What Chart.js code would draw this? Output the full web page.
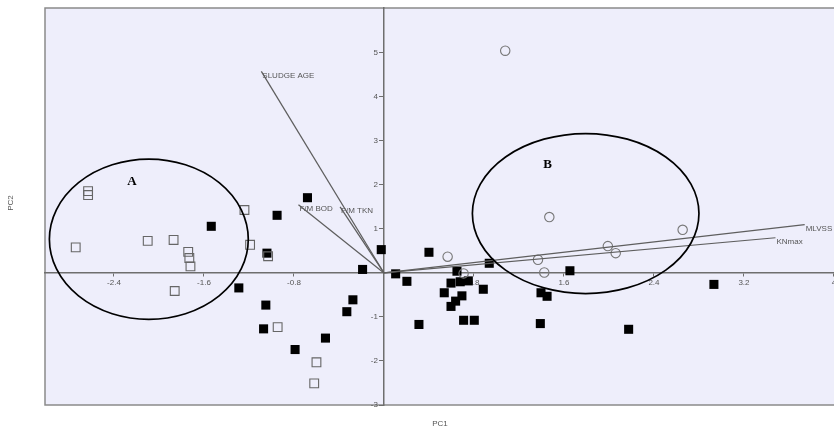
<!DOCTYPE html>
<html>
<head>
<meta charset="utf-8">
<script src="https://cdn.jsdelivr.net/npm/chart.js@4/dist/chart.umd.min.js"></script>
<style>
  html, body { margin: 0; padding: 0; background: #ffffff; overflow: hidden; }
  #wrap { width: 880px; height: 429px; }
</style>
</head>
<body>
<div id="wrap"><canvas id="c" width="880" height="429"></canvas></div>
<script>
// PCA biplot: sample scores on PC1 / PC2 and variable loading vectors

// Cluster A samples (open squares)
const groupAX = [-2.63, -2.63, -2.74, -2.10, -1.87, -1.74, -1.73, -1.72, -1.86, -1.24, -1.19, -1.03, -0.945, -0.60, -0.62];
const groupAY = [1.86, 1.77, 0.58, 0.73, 0.75, 0.48, 0.34, 0.15, -0.41, 1.43, 0.64, 0.38, -1.23, -2.03, -2.51];

// Intermediate samples (filled squares)
const groupMX = [-1.535, -0.68, -0.95, -1.04, -1.29, -1.05, -1.07, -0.79, -0.52, -0.276, -0.33, -0.19, -0.024, 0.104, 0.204, 0.40, 0.649, 0.596, 0.678, 0.75, 0.536, 0.883, 0.693, 0.637, 0.596, 0.311, 0.708, 0.803, 0.936, 1.653, 1.396, 1.45, 1.39, 2.933, 2.175];
const groupMY = [1.06, 1.71, 1.31, 0.45, -0.34, -0.73, -1.27, -1.74, -1.48, -0.61, -0.88, 0.08, 0.53, -0.02, -0.19, 0.47, 0.04, -0.23, -0.20, -0.18, -0.45, -0.37, -0.52, -0.64, -0.76, -1.17, -1.075, -1.075, 0.22, 0.05, -0.45, -0.53, -1.15, -0.26, -1.28];

// Cluster B samples (open circles)
const groupBX = [1.078, 1.47, 2.655, 1.99, 2.06, 1.369, 1.425, 0.566, 0.708];
const groupBY = [5.05, 1.27, 0.98, 0.61, 0.45, 0.30, 0.01, 0.37, -0.01];

// Loading vectors
const vectorNames = ['SLUDGE AGE', 'F/M BOD', 'F/M TKN', 'MLVSS', 'KNmax'];
const vectorX = [-1.09, -0.76, -0.39, 3.74, 3.48];
const vectorY = [4.58, 1.55, 1.50, 1.10, 0.80];

// Axis ticks
const xTicks = [-2.4, -1.6, -0.8, 0.8, 1.6, 2.4, 3.2, 4];
const yTicks = [-3, -2, -1, 1, 2, 3, 4, 5];

// Group ellipses: centre, radii (data units) and letter
const ellipseLabels = ['A', 'B'];
const ellipseCX = [-2.09, 1.793];
const ellipseCY = [0.766, 1.35];
const ellipseRX = [0.884, 1.007];
const ellipseRY = [1.82, 1.818];
const letterX = [-2.24, 1.455];
const letterY = [2.07, 2.46];

const zip = (xs, ys) => xs.map((x, i) => ({ x, y: ys[i] }));

const vectorSets = vectorNames.map((name, i) => ({
  type: 'line',
  label: name,
  data: [{ x: 0, y: 0 }, { x: vectorX[i], y: vectorY[i] }],
  borderColor: '#5e5e5e',
  borderWidth: 1.25,
  pointRadius: 0,
  fill: false
}));

const GRAY = '#555555';
const FONT = '"Liberation Sans", Arial, sans-serif';

const decor = {
  id: 'decor',
  beforeDraw(chart) {
    const { ctx, chartArea: a } = chart;
    ctx.save();
    ctx.fillStyle = 'rgb(238,238,251)';
    ctx.fillRect(a.left, a.top, a.right - a.left, a.bottom - a.top);
    ctx.strokeStyle = '#8a8a8a';
    ctx.lineWidth = 1.5;
    ctx.strokeRect(a.left, a.top, a.right - a.left, a.bottom - a.top);
    ctx.restore();
  },
  afterDraw(chart) {
    const { ctx } = chart;
    const xs = chart.scales.x, ys = chart.scales.y;
    ctx.save();
    // y tick labels, left of the centre axis
    const x0 = xs.getPixelForValue(0);
    ctx.font = '8px ' + FONT;
    ctx.fillStyle = GRAY;
    ctx.textAlign = 'right';
    ctx.textBaseline = 'middle';
    ys.ticks.forEach(t => {
      ctx.fillText(String(t.value), x0 - 6, ys.getPixelForValue(t.value));
    });
    // vector labels
    ctx.textAlign = 'left';
    vectorNames.forEach((n, i) => {
      ctx.fillText(n, xs.getPixelForValue(vectorX[i]) + 1, ys.getPixelForValue(vectorY[i]) + 4);
    });
    // ellipses
    ctx.strokeStyle = '#000';
    ctx.lineWidth = 1.7;
    ellipseLabels.forEach((l, i) => {
      const cx = xs.getPixelForValue(ellipseCX[i]);
      const cy = ys.getPixelForValue(ellipseCY[i]);
      const rx = Math.abs(xs.getPixelForValue(ellipseCX[i] + ellipseRX[i]) - cx);
      const ry = Math.abs(ys.getPixelForValue(ellipseCY[i] + ellipseRY[i]) - cy);
      ctx.beginPath();
      ctx.ellipse(cx, cy, rx, ry, 0, 0, Math.PI * 2);
      ctx.stroke();
    });
    ctx.fillStyle = '#000';
    ctx.font = 'bold 13px "Liberation Serif", "Times New Roman", serif';
    ctx.textAlign = 'center';
    ellipseLabels.forEach((l, i) => {
      ctx.fillText(l, xs.getPixelForValue(letterX[i]), ys.getPixelForValue(letterY[i]));
    });
    // axis titles
    ctx.font = '8px ' + FONT;
    ctx.fillStyle = GRAY;
    ctx.fillText('PC1', 440, 424);
    ctx.translate(11, 203);
    ctx.rotate(-Math.PI / 2);
    ctx.fillText('PC2', 0, 0);
    ctx.restore();
  }
};

new Chart(document.getElementById('c'), {
  type: 'scatter',
  data: {
    datasets: [
      ...vectorSets,
      {
        label: 'B',
        data: zip(groupBX, groupBY),
        pointStyle: 'circle',
        pointRadius: 4.7,
        backgroundColor: 'rgba(0,0,0,0)',
        borderColor: '#777777',
        borderWidth: 1.1
      },
      {
        label: 'A',
        data: zip(groupAX, groupAY),
        pointStyle: 'rect',
        pointRadius: 6.2,
        backgroundColor: 'rgba(0,0,0,0)',
        borderColor: '#666666',
        borderWidth: 1.1
      },
      {
        label: 'M',
        data: zip(groupMX, groupMY),
        pointStyle: 'rect',
        pointRadius: 6.4,
        backgroundColor: '#000000',
        borderColor: '#000000',
        borderWidth: 0
      }
    ]
  },
  options: {
    responsive: false,
    maintainAspectRatio: false,
    animation: false,
    events: [],
    layout: { padding: { left: 45, top: 8, right: 24, bottom: 24 } },
    plugins: { legend: { display: false }, tooltip: { enabled: false } },
    scales: {
      x: {
        type: 'linear',
        min: -3.013,
        max: 4.196,
        position: { y: 0 },
        afterBuildTicks: s => { s.ticks = xTicks.map(v => ({ value: v })); },
        grid: { drawOnChartArea: false, drawTicks: true, tickLength: 3, color: '#6e6e6e', tickWidth: 1 },
        border: { display: true, color: '#6e6e6e', width: 1.5 },
        ticks: { color: GRAY, padding: 2, maxRotation: 0, autoSkip: false, font: { size: 8, family: FONT }, callback: v => String(v) }
      },
      y: {
        type: 'linear',
        min: -3,
        max: 6.02,
        position: { x: 0 },
        afterBuildTicks: s => { s.ticks = yTicks.map(v => ({ value: v })); },
        grid: { drawOnChartArea: false, drawTicks: true, tickLength: 4, color: '#6e6e6e', tickWidth: 1 },
        border: { display: true, color: '#6e6e6e', width: 1.5 },
        ticks: { color: 'rgba(0,0,0,0)', autoSkip: false, font: { size: 8, family: FONT } }
      }
    }
  },
  plugins: [decor]
});
</script>
</body>
</html>
